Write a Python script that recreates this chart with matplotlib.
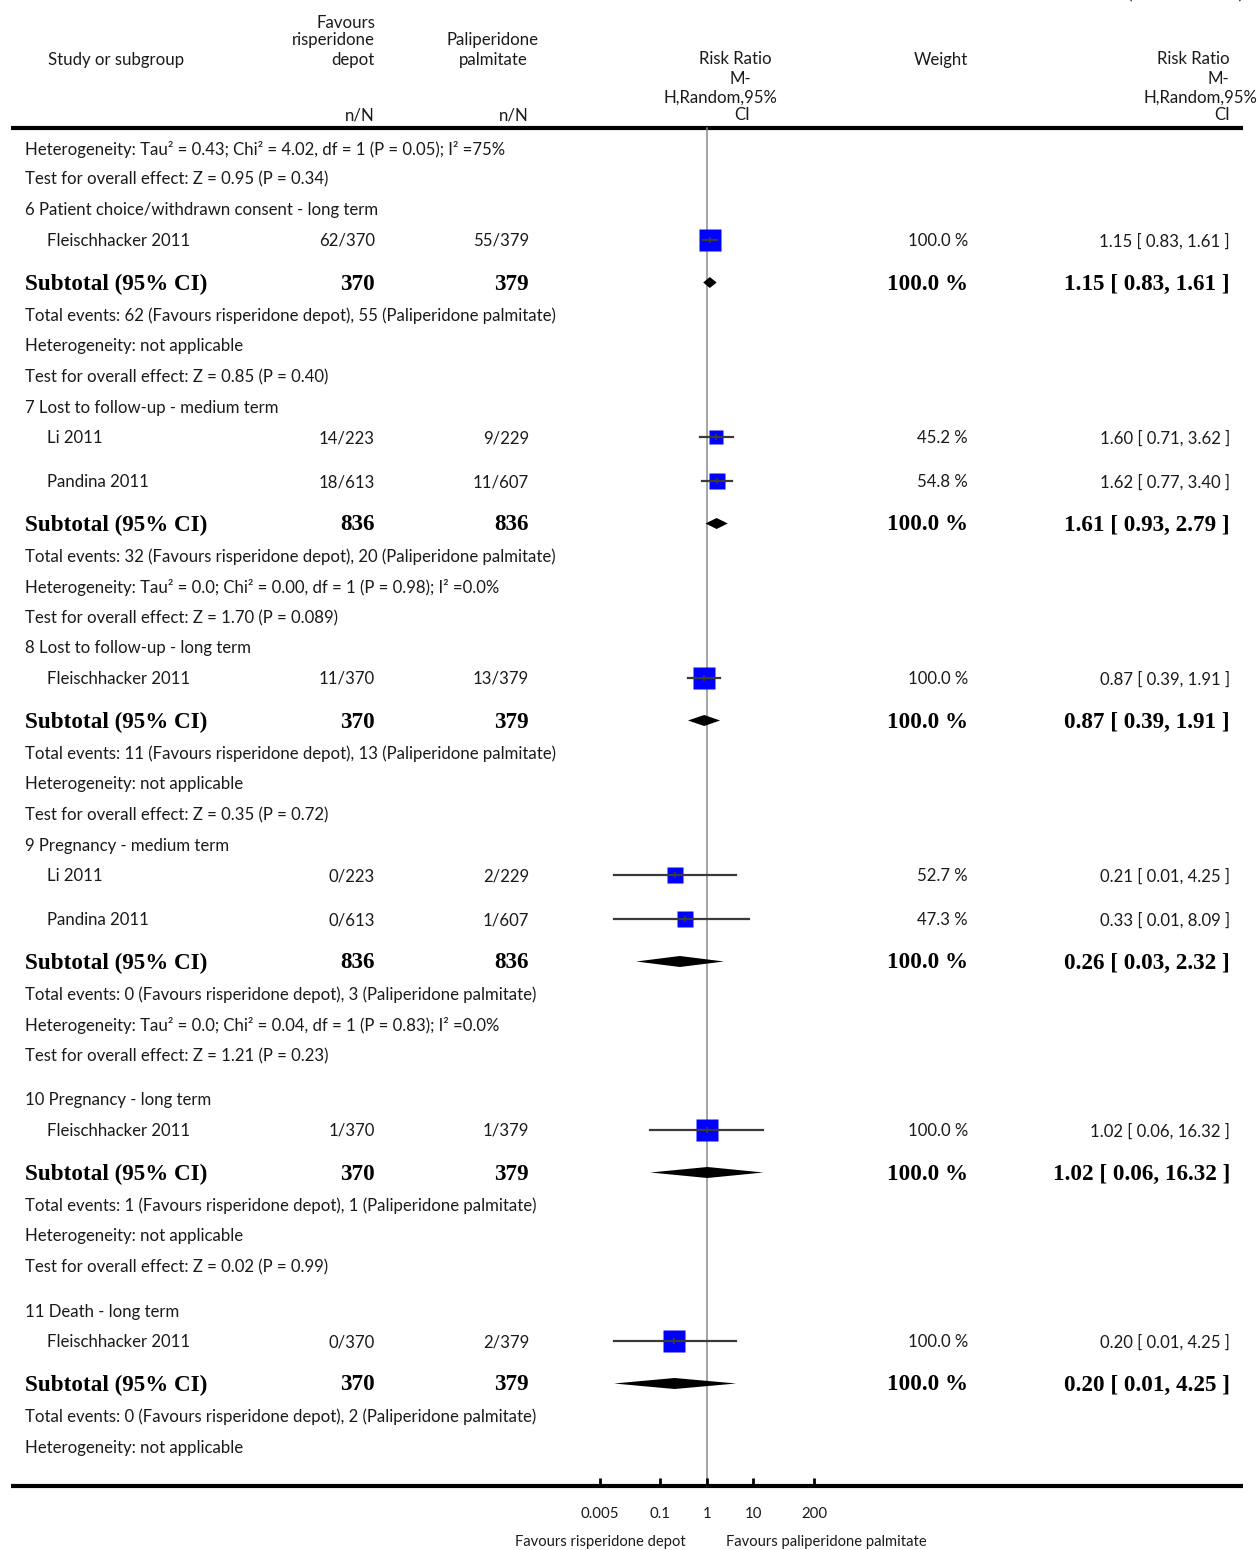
import math
import matplotlib
matplotlib.use('Agg')
import matplotlib.pyplot as plt


# +
# data
# -
group_titles = ['6 Patient choice/withdrawn consent - long term',
                '7 Lost to follow-up - medium term',
                '8 Lost to follow-up - long term',
                '9 Pregnancy - medium term',
                '10 Pregnancy - long term',
                '11 Death - long term']
group_nstudies = [1, 2, 1, 2, 1, 1]

study_names = ['Fleischhacker 2011', 'Li 2011', 'Pandina 2011', 'Fleischhacker 2011',
               'Li 2011', 'Pandina 2011', 'Fleischhacker 2011', 'Fleischhacker 2011']
study_risp = ['62/370', '14/223', '18/613', '11/370', '0/223', '0/613', '1/370', '0/370']
study_pali = ['55/379', '9/229', '11/607', '13/379', '2/229', '1/607', '1/379', '2/379']
study_weight = [100.0, 45.2, 54.8, 100.0, 52.7, 47.3, 100.0, 100.0]
study_rr = [1.15, 1.60, 1.62, 0.87, 0.21, 0.33, 1.02, 0.20]
study_lo = [0.83, 0.71, 0.77, 0.39, 0.01, 0.01, 0.06, 0.01]
study_hi = [1.61, 3.62, 3.40, 1.91, 4.25, 8.09, 16.32, 4.25]

sub_n_risp = [370, 836, 370, 836, 370, 370]
sub_n_pali = [379, 836, 379, 836, 379, 379]
sub_rr = [1.15, 1.61, 0.87, 0.26, 1.02, 0.20]
sub_lo = [0.83, 0.93, 0.39, 0.03, 0.06, 0.01]
sub_hi = [1.61, 2.79, 1.91, 2.32, 16.32, 4.25]
events_risp = [62, 32, 11, 0, 1, 0]
events_pali = [55, 20, 13, 3, 1, 2]
heterogeneity = ['not applicable',
                 'Tau\u00b2 = 0.0; Chi\u00b2 = 0.00, df = 1 (P = 0.98); I\u00b2 =0.0%',
                 'not applicable',
                 'Tau\u00b2 = 0.0; Chi\u00b2 = 0.04, df = 1 (P = 0.83); I\u00b2 =0.0%',
                 'not applicable',
                 'not applicable']
overall_effect = ['Z = 0.85 (P = 0.40)', 'Z = 1.70 (P = 0.089)', 'Z = 0.35 (P = 0.72)',
                  'Z = 1.21 (P = 0.23)', 'Z = 0.02 (P = 0.99)', None]

prev_heterogeneity = 'Tau\u00b2 = 0.43; Chi\u00b2 = 4.02, df = 1 (P = 0.05); I\u00b2 =75%'
prev_overall_effect = 'Z = 0.95 (P = 0.34)'

axis_ticks = [0.005, 0.1, 1, 10, 200]
axis_ticklabels = ['0.005', '0.1', '1', '10', '200']


# +
# layout (pixels)
# -
W, H = 1259, 1550
X_ONE, PX_DECADE = 707, 46.5
DY = 1.5
SANS = 'Lato'
SERIF = 'Liberation Serif'
TXT = dict(family=SANS, fontsize=12.1, color='#1a1a1a', va='center')
BOLD = dict(family=SERIF, fontsize=16.7, weight='bold', color='black', va='center')
SMALL = dict(family=SANS, fontsize=10.6, color='#1a1a1a', va='center')
COL_RISP, COL_PALI, COL_W, COL_RR = 375, 529, 968, 1230
TOP_RULE, AXIS_Y = 128, 1486

fig = plt.figure(figsize=(W / 100, H / 100), dpi=100)
ax = fig.add_axes([0, 0, 1, 1])
ax.set_xlim(0, W)
ax.set_ylim(H, 0)
ax.axis('off')

# forest plot axes: log scale, 1 sits at X_ONE px
fx = fig.add_axes([0, 0, 1, 1])
fx.set_xscale('log')
fx.set_xlim(10 ** (-X_ONE / PX_DECADE), 10 ** ((W - X_ONE) / PX_DECADE))
fx.set_ylim(H, 0)
fx.axis('off')
fx.patch.set_alpha(0)


def put(x, y, s, style=TXT, **kw):
    ax.text(x, y + DY, s, **style, **kw)


# header
put(48, 58, 'Study or subgroup', ha='left')
for s, yy in zip(['Favours', 'risperidone', 'depot'], [21, 39, 58]):
    put(COL_RISP, yy, s, ha='right')
for s, yy in zip(['Paliperidone', 'palmitate'], [39, 58]):
    put(493, yy, s, ha='center')
put(COL_RISP, 114, 'n/N', ha='right')
put(COL_PALI, 114, 'n/N', ha='right')
for s, xx, yy in zip(['Risk Ratio', 'M-', 'H,Random,95%', 'CI'], [735, 740, 720, 742], [58, 77, 96, 114]):
    put(xx, yy, s, ha='center')
put(COL_W, 58, 'Weight', ha='right')
for s, xx, yy in zip(['Risk Ratio', 'M-', 'H,Random,95%', 'CI'], [1230, 1229, 1257, 1230], [58, 77, 96, 114]):
    put(xx, yy, s, ha='right')
ax.text(1243, 2, '(. . .  Continued)', ha='right', va='bottom', family=SANS, fontsize=12.1,
        color='#1a1a1a')

ax.plot([11, 1243], [TOP_RULE, TOP_RULE], color='black', lw=3, solid_capstyle='butt')

# carry-over lines from previous page
put(25, 148, 'Heterogeneity: ' + prev_heterogeneity, ha='left')
put(25, 178, 'Test for overall effect: ' + prev_overall_effect, ha='left')

# groups
y = 209.0
k = 0
for g, title in enumerate(group_titles):
    put(25, y, title, ha='left')
    y += 30.5
    for j in range(group_nstudies[g]):
        if j > 0:
            y += 44
        put(47, y, study_names[k], ha='left')
        put(COL_RISP, y, study_risp[k], ha='right')
        put(COL_PALI, y, study_pali[k], ha='right')
        put(COL_W, y, f'{study_weight[k]:.1f} %', ha='right')
        put(COL_RR, y, f'{study_rr[k]:.2f} [ {study_lo[k]:.2f}, {study_hi[k]:.2f} ]', ha='right')
        side = 22 * math.sqrt(study_weight[k] / 100.0) * 0.72
        fx.plot([study_rr[k]], [y], marker='s', markersize=side, color='#0000ff', mec='none',
                ls='none', zorder=3)
        fx.plot([study_lo[k], study_hi[k]], [y, y], color='#3a3a3a', lw=1.6, zorder=4)
        fx.plot([study_rr[k]], [y], marker='|', markersize=5, color='#3a3a3a', mew=1.2, zorder=4)
        k += 1
    y += 43
    put(25, y, 'Subtotal (95% CI)', BOLD, ha='left')
    put(COL_RISP, y, str(sub_n_risp[g]), BOLD, ha='right')
    put(COL_PALI, y, str(sub_n_pali[g]), BOLD, ha='right')
    put(COL_W, y, '100.0 %', BOLD, ha='right')
    put(COL_RR, y, f'{sub_rr[g]:.2f} [ {sub_lo[g]:.2f}, {sub_hi[g]:.2f} ]', BOLD, ha='right')
    fx.fill([sub_lo[g], sub_rr[g], sub_hi[g], sub_rr[g]], [y, y - 5.5, y, y + 5.5],
            color='black', lw=0, zorder=4)
    y += 32
    put(25, y, f'Total events: {events_risp[g]} (Favours risperidone depot), '
               f'{events_pali[g]} (Paliperidone palmitate)', ha='left')
    y += 30.5
    put(25, y, 'Heterogeneity: ' + heterogeneity[g], ha='left')
    if overall_effect[g] is not None:
        y += 30.5
        put(25, y, 'Test for overall effect: ' + overall_effect[g], ha='left')
    y += 30.5
    if g >= 3:
        y += 14

# line of no effect and bottom axis
fx.plot([1, 1], [TOP_RULE, AXIS_Y], color='#8c8c8c', lw=1.1, zorder=2)
ax.plot([11, 1243], [AXIS_Y, AXIS_Y], color='black', lw=3, solid_capstyle='butt')
for t, lab in zip(axis_ticks, axis_ticklabels):
    fx.plot([t, t], [AXIS_Y - 8, AXIS_Y], color='black', lw=2, solid_capstyle='butt')
    fx.text(t, 1513 + DY, lab, ha='center', **dict(SMALL, fontsize=10.8))
ax.text(600, 1542, 'Favours risperidone depot', ha='center', **SMALL)
ax.text(826, 1542, 'Favours paliperidone palmitate', ha='center', **SMALL)

fig.savefig('out.png', dpi=100)
